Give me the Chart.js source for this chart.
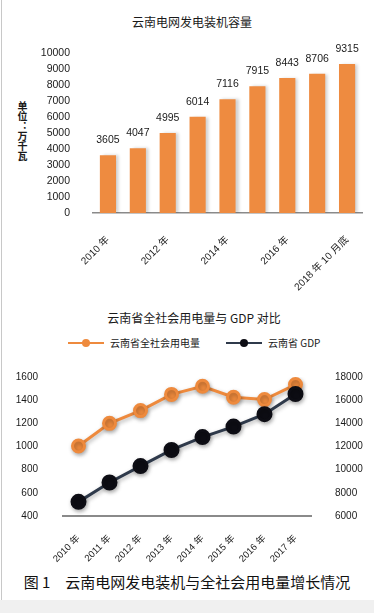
<!DOCTYPE html>
<html>
<head>
<meta charset="utf-8">
<script src="https://cdn.jsdelivr.net/npm/chart.js@4.4.0/dist/chart.umd.min.js"></script>
<style>
body { margin: 0; background: #fff; font-family: 'Liberation Sans', 'Noto Sans CJK SC', sans-serif; color: #1a1a1a; }
#page { position: relative; width: 374px; height: 613px; overflow: hidden; background: #fff; }
#page canvas { position: absolute; left: 0; }
.edge { position: absolute; left: 1px; top: 0; width: 1px; height: 613px; background: #c8c8c8; }
.foot { position: absolute; left: 0; top: 600px; width: 374px; height: 13px; background: #f0f0f0; }
.title { position: absolute; left: 0; width: 374px; text-align: center; font-size: 12px; line-height: 16px; font-family: 'Noto Sans CJK SC', sans-serif; }
.ytitle { position: absolute; left: 17px; top: 101px; font-size: 10px; line-height: 10px; writing-mode: vertical-rl; text-orientation: upright; font-family: 'Noto Sans CJK SC', sans-serif; font-weight: bold; }
.legend { position: absolute; top: 335px; height: 16px; font-size: 10px; line-height: 16px; font-family: 'Noto Sans CJK SC', sans-serif; }
.legend .ln { position: absolute; top: 7px; width: 36px; height: 2px; }
.legend .dot { position: absolute; top: 4px; left: 14px; width: 8px; height: 8px; border-radius: 50%; }
.legend .tx { position: absolute; left: 42px; top: 0; white-space: nowrap; }
.caption { position: absolute; left: 0; top: 572px; width: 374px; text-align: center; font-size: 15px; line-height: 20px; font-family: 'Noto Sans CJK SC', sans-serif; color: #111; }
</style>
</head>
<body>
<div id="page">
  <div class="edge"></div>
  <div class="title" style="top:14px;padding-left:10px;box-sizing:border-box;">云南电网发电装机容量</div>
  <div class="ytitle">单位：万千瓦</div>
  <canvas id="capChart" width="374" height="300" style="top:0"></canvas>

  <div class="title" style="top:310px;padding-left:14px;box-sizing:border-box;">云南省全社会用电量与 GDP 对比</div>
  <div class="legend" style="left:68px;width:150px;">
    <div class="ln" style="background:#ee8a3d"><div class="dot" style="background:#ee8a3d;top:-3px;"></div></div>
    <div class="tx">云南省全社会用电量</div>
  </div>
  <div class="legend" style="left:226px;width:120px;">
    <div class="ln" style="background:#2f3a4b"><div class="dot" style="background:#0d0d14;top:-3px;"></div></div>
    <div class="tx">云南省 GDP</div>
  </div>
  <canvas id="useChart" width="374" height="270" style="top:300px"></canvas>

  <div class="caption">图 1&emsp;云南电网发电装机与全社会用电量增长情况</div>
  <div class="foot"></div>
</div>

<script>
// 装机容量（万千瓦）
var capacityYears = ['2010 年', '2011 年', '2012 年', '2013 年', '2014 年', '2015 年', '2016 年', '2017 年', '2018 年 10 月底'];
var capacityValues = [3605, 4047, 4995, 6014, 7116, 7915, 8443, 8706, 9315];
var capacityAxis = [0, 10000, 1000];   // min, max, step

// 全社会用电量（亿千瓦时）与 GDP（亿元）
var usageYears = ['2010 年', '2011 年', '2012 年', '2013 年', '2014 年', '2015 年', '2016 年', '2017 年'];
var powerUse = [1004, 1200, 1310, 1450, 1520, 1425, 1405, 1535];
var gdpValues = [7220, 8890, 10310, 11700, 12810, 13720, 14790, 16530];
var powerAxis = [400, 1600, 200];
var gdpAxis = [6000, 18000, 2000];

Chart.defaults.font.family = "'Liberation Sans', 'Noto Sans CJK SC', sans-serif";
Chart.defaults.color = '#1a1a1a';

// plain numbers, no thousands separator
function plain(v) { return String(v); }

// value labels above bars
var barLabels = {
    id: 'barLabels',
    afterDatasetsDraw: function(chart) {
        var ctx = chart.ctx;
        var meta = chart.getDatasetMeta(0);
        ctx.save();
        ctx.font = "10.5px 'Liberation Sans', sans-serif";
        ctx.fillStyle = '#1a1a1a';
        ctx.textAlign = 'center';
        ctx.textBaseline = 'middle';
        meta.data.forEach(function(bar, i) {
            ctx.fillText(chart.data.datasets[0].data[i], bar.x, bar.y - 15);
        });
        ctx.restore();
    }
};

// soft shadow under bars / points
function softShadow(color, blur, dx, dy) {
    return {
        id: 'softShadow',
        beforeDatasetsDraw: function(chart) {
            var ctx = chart.ctx;
            ctx.save();
            ctx.shadowColor = color;
            ctx.shadowBlur = blur;
            ctx.shadowOffsetX = dx;
            ctx.shadowOffsetY = dy;
        },
        afterDatasetsDraw: function(chart) {
            chart.ctx.restore();
        }
    };
}

new Chart(document.getElementById('capChart'), {
    type: 'bar',
    data: {
        labels: capacityYears,
        datasets: [{
            data: capacityValues,
            backgroundColor: '#ee8b40',
            barPercentage: 0.54,
            categoryPercentage: 1
        }]
    },
    options: {
        responsive: false,
        animation: false,
        layout: { padding: { top: 53, right: 12, left: 0, bottom: 0 } },
        plugins: { legend: { display: false }, tooltip: { enabled: false } },
        scales: {
            x: {
                grid: { display: false },
                border: { color: '#8a8a8a', width: 1.5 },
                ticks: {
                    autoSkip: false,
                    maxRotation: 45,
                    minRotation: 45,
                    padding: 13,
                    font: { size: 10 },
                    callback: function(v, i) {
                        // every second year is labelled
                        return i % 2 ? '' : this.getLabelForValue(v);
                    }
                },
                afterFit: function(s) { s.height = 87; }
            },
            y: {
                min: capacityAxis[0],
                max: capacityAxis[1],
                grid: { display: false },
                border: { display: false },
                ticks: { stepSize: capacityAxis[2], padding: 15, font: { size: 10.5 }, callback: plain },
                afterFit: function(s) { s.width = 93; }
            }
        }
    },
    plugins: [softShadow('rgba(0,0,0,0.18)', 3, 3, 0), barLabels]
});

new Chart(document.getElementById('useChart'), {
    type: 'line',
    data: {
        labels: usageYears,
        datasets: [{
            label: '云南省全社会用电量',
            data: powerUse,
            yAxisID: 'y',
            borderColor: '#ee8a3d',
            backgroundColor: '#ee8a3d',
            pointBackgroundColor: '#ee8a3d',
            pointBorderColor: '#ee8a3d',
            borderWidth: 3,
            pointRadius: 6,
            order: 1
        }, {
            label: '云南省 GDP',
            data: gdpValues,
            yAxisID: 'y1',
            borderColor: '#2f3a4b',
            backgroundColor: '#0d0d14',
            pointBackgroundColor: '#0d0d14',
            pointBorderColor: '#0d0d14',
            borderWidth: 3,
            pointRadius: 6.5,
            order: 0
        }]
    },
    options: {
        responsive: false,
        animation: false,
        layout: { padding: { top: 77, right: 0, left: 0, bottom: 0 } },
        plugins: { legend: { display: false }, tooltip: { enabled: false } },
        scales: {
            x: {
                offset: true,
                grid: { display: false },
                border: { color: '#8a8a8a', width: 2 },
                ticks: { autoSkip: false, maxRotation: 45, minRotation: 45, padding: 9, font: { size: 9.5 } },
                afterFit: function(s) { s.height = 54; }
            },
            y: {
                position: 'left',
                min: powerAxis[0],
                max: powerAxis[1],
                grid: { display: false },
                border: { display: false },
                ticks: { stepSize: powerAxis[2], padding: 17, font: { size: 10 }, callback: plain },
                afterFit: function(s) { s.width = 63; }
            },
            y1: {
                position: 'right',
                min: gdpAxis[0],
                max: gdpAxis[1],
                grid: { display: false },
                border: { display: false },
                ticks: { stepSize: gdpAxis[2], padding: 16, font: { size: 10 }, callback: plain },
                afterFit: function(s) { s.width = 63; }
            }
        }
    },
    plugins: [softShadow('rgba(0,0,0,0.3)', 4, 1, 2)]
});
</script>
</body>
</html>
